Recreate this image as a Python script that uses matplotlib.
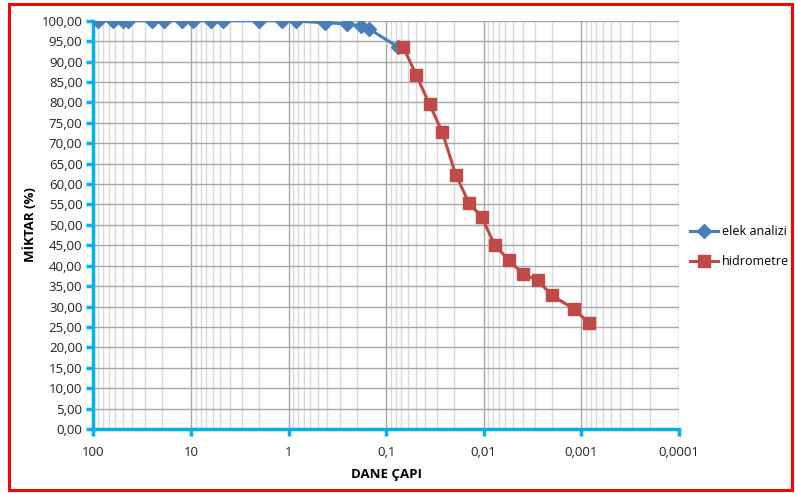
import matplotlib.pyplot as plt
from matplotlib.patches import Rectangle
from matplotlib.ticker import FixedLocator, FuncFormatter, LogLocator, NullFormatter

plt.rcParams['font.family'] = ['Open Sans', 'DejaVu Sans']

# elek analizi (sieve analysis)
elek_cap = [89, 63, 50, 44, 25, 19, 12.5, 9.5, 6.3, 4.75, 2.0, 1.18, 0.85,
            0.425, 0.25, 0.18, 0.15, 0.075]
elek_miktar = [100, 100, 100, 100, 100, 100, 100, 100, 100, 100, 100, 100,
               99.9, 99.5, 99.2, 98.7, 98.0, 93.5]

# hidrometre
hidro_cap = [0.067, 0.049, 0.036, 0.0267, 0.0194, 0.0142, 0.0105, 0.0077,
             0.0055, 0.00395, 0.0028, 0.0020, 0.00119, 0.00084]
hidro_miktar = [93.6, 86.6, 79.5, 72.8, 62.3, 55.4, 51.9, 45.0, 41.3, 37.9,
                36.4, 32.7, 29.4, 26.0]

x_ticks = [100, 10, 1, 0.1, 0.01, 0.001, 0.0001]
x_labels = ["100", "10", "1", "0,1", "0,01", "0,001", "0,0001"]

blue = "#4A7EBB"
red = "#BE4B48"
spine = "#00B0F0"

fig = plt.figure(figsize=(7.95, 4.93), dpi=100)
ax = fig.add_axes([0.1176, 0.1298, 0.854 - 0.1176, 0.958 - 0.1298])

ax.plot(elek_cap, elek_miktar, color=blue, lw=2.2, marker="D", ms=7.5,
        label="elek analizi", zorder=3)
ax.plot(hidro_cap, hidro_miktar, color=red, lw=2.2, marker="s", ms=8.5,
        label="hidrometre", zorder=4)

ax.set_xscale("log")
ax.set_xlim(100, 0.0001)
ax.set_ylim(0, 100)

ax.xaxis.set_major_locator(FixedLocator(x_ticks))
ax.set_xticklabels(x_labels)
ax.xaxis.set_minor_locator(LogLocator(base=10, subs=range(2, 10)))
ax.xaxis.set_minor_formatter(NullFormatter())

ax.set_yticks(range(0, 101, 5))
ax.yaxis.set_major_formatter(FuncFormatter(lambda v, p: f"{v:.2f}".replace(".", ",")))

ax.grid(True, which="major", axis="both", color="#A6A6A6", lw=1.0)
ax.grid(True, which="minor", axis="x", color="#D9D9D9", lw=1.0)
ax.set_axisbelow(True)

for s in ["top", "right"]:
    ax.spines[s].set_visible(False)
for s in ["left", "bottom"]:
    ax.spines[s].set_color(spine)
    ax.spines[s].set_linewidth(2.5)

ax.tick_params(axis="both", which="major", color=spine, width=2.5, length=5,
               labelsize=9.5, labelcolor="#222222")
ax.tick_params(axis="x", which="minor", length=0)
ax.tick_params(axis="x", pad=7)
ax.tick_params(axis="y", pad=3)

ax.set_xlabel("DANE ÇAPI", fontsize=9.5, fontweight="bold", labelpad=7)
ax.set_ylabel("MİKTAR (%)", fontsize=9.5, fontweight="bold", labelpad=3)

fig.legend(loc="center left", bbox_to_anchor=(0.862, 0.50), frameon=False,
           fontsize=9, handlelength=2.2, handletextpad=0.3, labelspacing=1.35,
           borderaxespad=0)

fig.patches.append(Rectangle((0.011, 0.006), 0.985, 0.986, transform=fig.transFigure,
                             fill=False, edgecolor="#FF0000", lw=2.2))

fig.savefig("out.png", dpi=100)
